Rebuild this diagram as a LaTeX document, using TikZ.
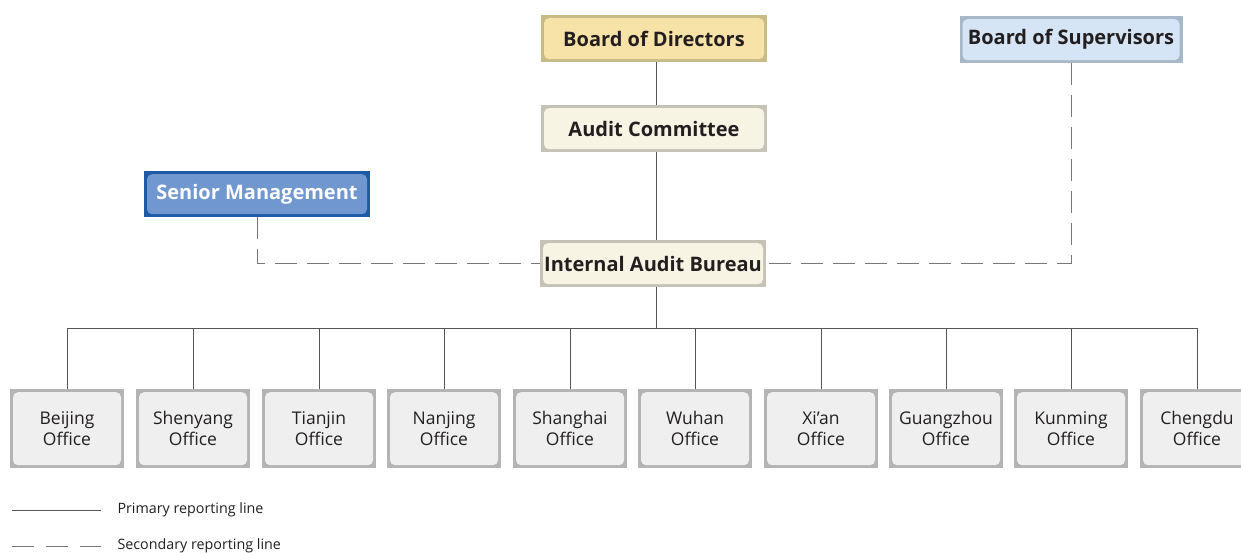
\documentclass[tikz,border=0pt]{standalone}
\usepackage{fontspec}
\setmainfont{Open Sans}
\definecolor{txt}{HTML}{231F20}
\definecolor{linec}{HTML}{555555}
\definecolor{dashc}{HTML}{777777}
\definecolor{bodF}{HTML}{F7E3A8}\definecolor{bodB}{HTML}{C9BB88}
\definecolor{bosF}{HTML}{D5E5F5}\definecolor{bosB}{HTML}{A8B8C8}
\definecolor{creF}{HTML}{F8F4E4}\definecolor{creB}{HTML}{C6C2B6}
\definecolor{smF}{HTML}{7097D0}\definecolor{smB}{HTML}{1E5AA6}
\definecolor{offF}{HTML}{EFEFEF}\definecolor{offB}{HTML}{B4B4B4}
\tikzset{
  framed/.style n args={2}{fill=#2, inner sep=0pt, anchor=north,
    path picture={\fill[#1, rounded corners=5pt]
      ([shift={(3pt,-3pt)}]path picture bounding box.north west) rectangle
      ([shift={(-3pt,3pt)}]path picture bounding box.south east);}},
  topbox/.style={font=\bfseries\fontsize{20}{22}\selectfont, text=txt,
    minimum width=226pt, minimum height=47pt},
  office/.style={framed={offF}{offB}, font=\fontsize{17.5}{21}\selectfont, text=txt,
    minimum width=114pt, minimum height=79pt, align=center, anchor=north},
  prim/.style={draw=linec, line width=0.9pt},
  sec/.style={draw=dashc, line width=1pt, dash pattern=on 22pt off 10pt},
  legend/.style={font=\fontsize{14.3}{16}\selectfont, text=txt, anchor=west}
}
\begin{document}
\begin{tikzpicture}[x=1pt,y=-1pt]
\useasboundingbox[fill=white] (0,0) rectangle (1241,553);
\node[framed={bodF}{bodB}, topbox] (bod) at (654,15) {Board of Directors};
\node[framed={bosF}{bosB}, topbox, minimum width=223pt] (bos) at (1071,16) {Board of Supervisors};
\node[framed={creF}{creB}, topbox] (ac) at (654,105) {Audit Committee};
\node[framed={smF}{smB}, topbox, text=white, minimum height=46pt] (sm) at (257,171) {Senior Management};
\node[framed={creF}{creB}, topbox] (iab) at (653,240) {Internal Audit Bureau};
\foreach \n/\x/\a/\b in {bj/67/Beijing/Office, sy/193/Shenyang/Office, tj/319/Tianjin/Office,
  nj/444/Nanjing/Office, sh/570/Shanghai/Office, wh/695/Wuhan/Office, xa/821/Xi’an/Office,
  gz/946/Guangzhou/Office, km/1071/Kunming/Office, cd/1197/Chengdu/Office}
  \node[office] (\n) at (\x,389) {\a\\\b};
\coordinate (bus) at (656,328);
\draw[prim] (bus |- bod.south) -- (bus |- ac.north);
\draw[prim] (bus |- ac.south) -- (bus |- iab.north);
\draw[prim] (bus |- iab.south) -- (bus);
\draw[prim] (bj.north |- bus) -- (cd.north |- bus);
\foreach \n in {bj,sy,tj,nj,sh,wh,xa,gz,km,cd}
  \draw[prim] (\n.north |- bus) -- (\n.north);
\draw[sec] (sm.south) -- (sm.south |- iab.west) -- (iab.west);
\draw[sec] (bos.south) -- (bos.south |- iab.east) -- (iab.east);
% legend
\coordinate (l1a) at (12,510); \coordinate (l1b) at (101,510);
\coordinate (l2a) at (12,546); \coordinate (l2b) at (101,546);
\draw[prim] (l1a) -- (l1b);
\draw[sec, dash pattern=on 22pt off 12pt] (l2a) -- (l2b);
\node[legend] (lp) at (114,510) {Primary reporting line};
\node[legend] (ls) at (114,546) {Secondary reporting line};
\end{tikzpicture}
\end{document}
